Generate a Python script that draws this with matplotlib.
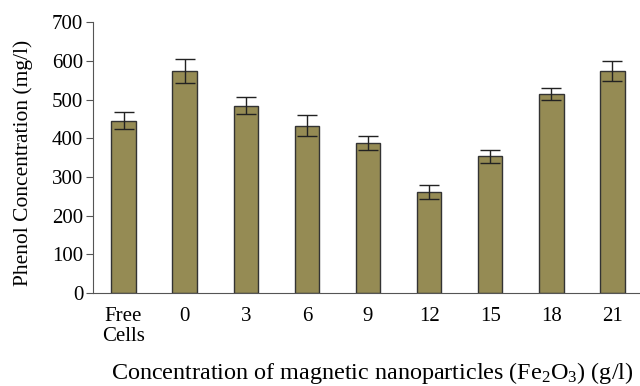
import matplotlib
matplotlib.use('Agg')
import matplotlib.pyplot as plt

categories = ['Free\nCells', '0', '3', '6', '9', '12', '15', '18', '21']
phenol = [445, 574, 484, 433, 388, 261, 353, 515, 574]
errors = [22, 30, 22, 28, 19, 17, 17, 16, 26]

plt.rcParams['font.family'] = ['Liberation Serif', 'DejaVu Serif']
plt.rcParams['mathtext.fontset'] = 'custom'
plt.rcParams['mathtext.rm'] = 'Liberation Serif'
plt.rcParams['mathtext.it'] = 'Liberation Serif:italic'

fig = plt.figure(figsize=(6.4, 3.86), dpi=100)
ax = fig.add_axes([93/640, 93/386, 547/640, 270.7/386])

x = range(len(categories))
ax.bar(x, phenol, width=0.4, color='#958b54', edgecolor='#333333', linewidth=1,
       yerr=errors, capsize=7, error_kw=dict(ecolor='#222222', elinewidth=1, capthick=1))

ax.set_xlim(-0.5, 8.45)
ax.set_ylim(0, 700)
ax.set_yticks(range(0, 701, 100))
ax.set_xticks(list(x))
ax.set_xticklabels(categories, fontsize=15, linespacing=1.1)
ax.tick_params(axis='x', length=0, pad=10)
ax.tick_params(axis='y', labelsize=15, length=5, direction='out', color='#555555', pad=2)
ax.spines['top'].set_visible(False)
ax.spines['right'].set_visible(False)
ax.spines['left'].set_color('#555555')
ax.spines['bottom'].set_color('#555555')

ax.set_ylabel('Phenol Concentration (mg/l)', fontsize=15.5, labelpad=14)
ax.yaxis.label.set_y(0.48)
ax.set_xlabel(r'Concentration of magnetic nanoparticles (Fe$_2$O$_3$) (g/l)', fontsize=17.4, labelpad=10)
ax.xaxis.label.set_x(0.51)

fig.savefig('out.png', dpi=100)
